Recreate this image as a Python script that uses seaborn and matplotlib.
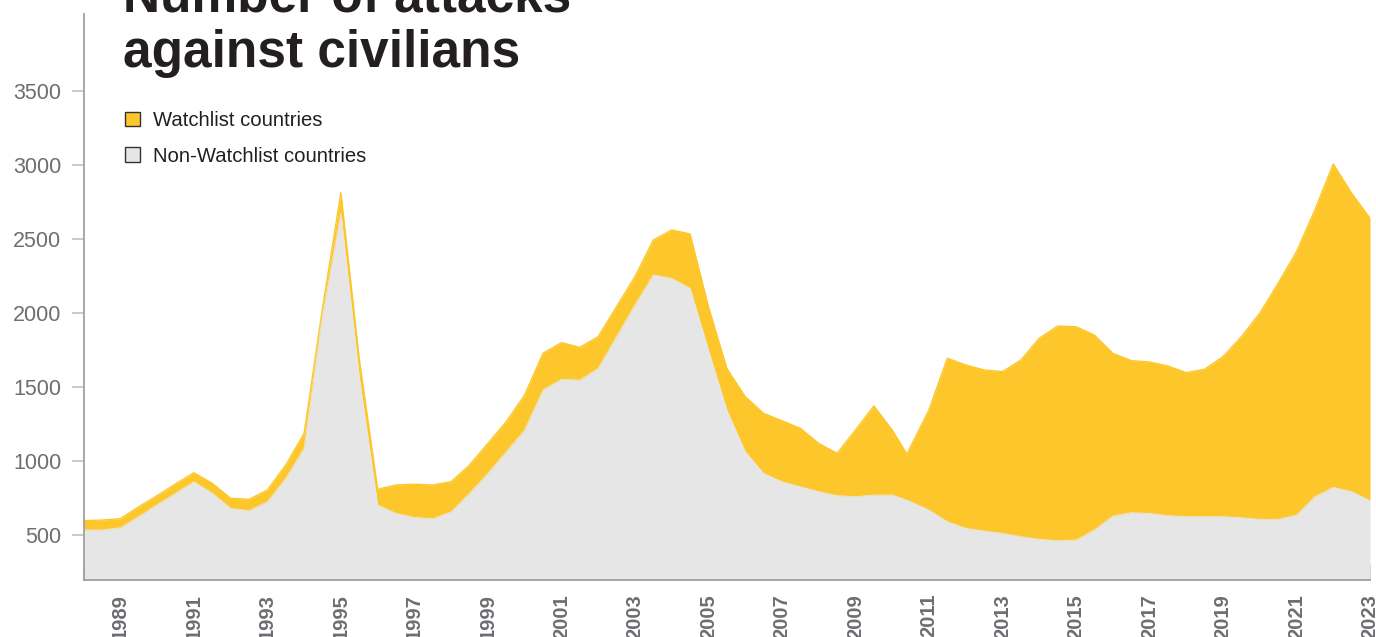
import numpy as np
import pandas as pd
import matplotlib
matplotlib.use("Agg")
import matplotlib.pyplot as plt
from matplotlib.patches import Patch
import seaborn as sns

# ---- data ----
years = [1988.0, 1988.5, 1989.0, 1989.5, 1990.0, 1990.5, 1991.0, 1991.5, 1992.0, 1992.5,
         1993.0, 1993.5, 1994.0, 1994.5, 1995.0, 1995.5, 1996.0, 1996.5, 1997.0, 1997.5,
         1998.0, 1998.5, 1999.0, 1999.5, 2000.0, 2000.5, 2001.0, 2001.5, 2002.0, 2002.5,
         2003.0, 2003.5, 2004.0, 2004.5, 2005.0, 2005.5, 2006.0, 2006.5, 2007.0, 2007.5,
         2008.0, 2008.5, 2009.0, 2009.5, 2010.0, 2010.4, 2011.0, 2011.5, 2012.0, 2012.5,
         2013.0, 2013.5, 2014.0, 2014.5, 2015.0, 2015.5, 2016.0, 2016.5, 2017.0, 2017.5,
         2018.0, 2018.5, 2019.0, 2019.5, 2020.0, 2020.5, 2021.0, 2021.5, 2022.0, 2022.5,
         2023.0]
non_watchlist = [534, 534, 549, 624, 705, 782, 860, 782, 680, 664,
                 725, 883, 1086, 1980, 2673, 1568, 703, 646, 619, 610,
                 657, 782, 917, 1063, 1209, 1480, 1552, 1547, 1626, 1840,
                 2054, 2257, 2234, 2167, 1750, 1345, 1063, 917, 860, 826,
                 793, 766, 759, 770, 770, 736, 669, 590, 545, 527,
                 511, 489, 471, 462, 466, 534, 628, 651, 646, 631,
                 624, 624, 624, 617, 606, 606, 635, 759, 822, 793,
                 732]
total_attacks = [597, 601, 610, 691, 766, 845, 921, 849, 748, 741,
                 804, 973, 1187, 2032, 2813, 1689, 809, 838, 843, 838,
                 860, 973, 1119, 1266, 1446, 1728, 1800, 1768, 1840, 2043,
                 2245, 2493, 2561, 2534, 2043, 1626, 1435, 1322, 1272, 1221,
                 1119, 1052, 1209, 1372, 1209, 1047, 1345, 1694, 1649, 1615,
                 1604, 1682, 1829, 1912, 1907, 1851, 1728, 1678, 1669, 1642,
                 1597, 1620, 1705, 1840, 1998, 2201, 2414, 2696, 3007, 2809,
                 2640]
watchlist = [t - n for t, n in zip(total_attacks, non_watchlist)]

series_labels = ["Watchlist countries", "Non-Watchlist countries"]
title_lines = ["Number of attacks", "against civilians"]
y_ticks = [500, 1000, 1500, 2000, 2500, 3000, 3500]
tick_years = list(range(1988, 2024))
label_years = list(range(1989, 2024, 2))

df = pd.DataFrame({"year": years, "non_watchlist": non_watchlist, "watchlist": watchlist})
df["top"] = df["non_watchlist"] + df["watchlist"]

YELLOW = "#FDC72B"
GREY = "#E6E6E6"
TEXT = "#231F20"
AXGREY = "#6D6E71"
SPINE = "#A0A0A0"

sns.set_theme(style="white")
plt.rcParams["font.family"] = ["Liberation Sans", "DejaVu Sans"]

fig = plt.figure(figsize=(13.76, 6.37), dpi=100)
ax = fig.add_axes([83.6 / 1376, 1 - 580 / 637, (1370 - 83.6) / 1376, (580 - 14) / 637])

ax.fill_between(df["year"], 0, df["non_watchlist"], color=GREY, lw=0, zorder=1)
ax.fill_between(df["year"], df["non_watchlist"], df["top"], color=YELLOW, lw=0, zorder=2)
sns.lineplot(x=df["year"], y=df["top"], ax=ax, color=YELLOW, lw=1.0, zorder=3)
sns.lineplot(x=df["year"], y=df["non_watchlist"], ax=ax, color=GREY, lw=0.6, zorder=3)

ax.set_xlim(1988, 2023)
ax.set_ylim(196, 4020)
ax.set_xlabel("")
ax.set_ylabel("")

for s in ["top", "right"]:
    ax.spines[s].set_visible(False)
for s in ["left", "bottom"]:
    ax.spines[s].set_color(SPINE)
    ax.spines[s].set_linewidth(1.3)
    ax.spines[s].set_zorder(5)

ax.set_yticks(y_ticks)
ax.set_yticklabels([str(v) for v in y_ticks])
ax.tick_params(axis="y", direction="out", length=9, width=1.1, color="#BBBBBB",
               labelsize=15.5, labelcolor=AXGREY, pad=7, left=True)

ax.set_xticks(tick_years)
ax.set_xticklabels([str(y) if y in label_years else "" for y in tick_years],
                   rotation=90, fontweight="bold")
ax.tick_params(axis="x", direction="in", length=11, width=1.1, color="#AAAAAA",
               labelsize=14.5, labelcolor=AXGREY, pad=10, bottom=True)
for lbl in ax.get_xticklabels():
    lbl.set_verticalalignment("top")

# title (two lines, top line partially cut off in the reference)
title_font = ["Liberation Sans", "DejaVu Sans"]
fig.text(123 / 1376, 1 - 12 / 637, title_lines[0], family=title_font, fontweight="bold",
         fontsize=37, color=TEXT, va="baseline", ha="left")
fig.text(123 / 1376, 1 - 67 / 637, title_lines[1], family=title_font, fontweight="bold",
         fontsize=37, color=TEXT, va="baseline", ha="left")

handles = [Patch(facecolor=YELLOW, edgecolor="#333333", lw=1.0),
           Patch(facecolor=GREY, edgecolor="#333333", lw=1.0)]
leg = ax.legend(handles, series_labels, loc="upper left",
                bbox_to_anchor=(125 / 1376, 1 - 111 / 637), bbox_transform=fig.transFigure,
                frameon=False, fontsize=14.6, handlelength=0.75, handleheight=0.75,
                handletextpad=0.65, labelspacing=0.82, borderpad=0, borderaxespad=0)
for t in leg.get_texts():
    t.set_color(TEXT)

fig.savefig("out.png", dpi=100)
